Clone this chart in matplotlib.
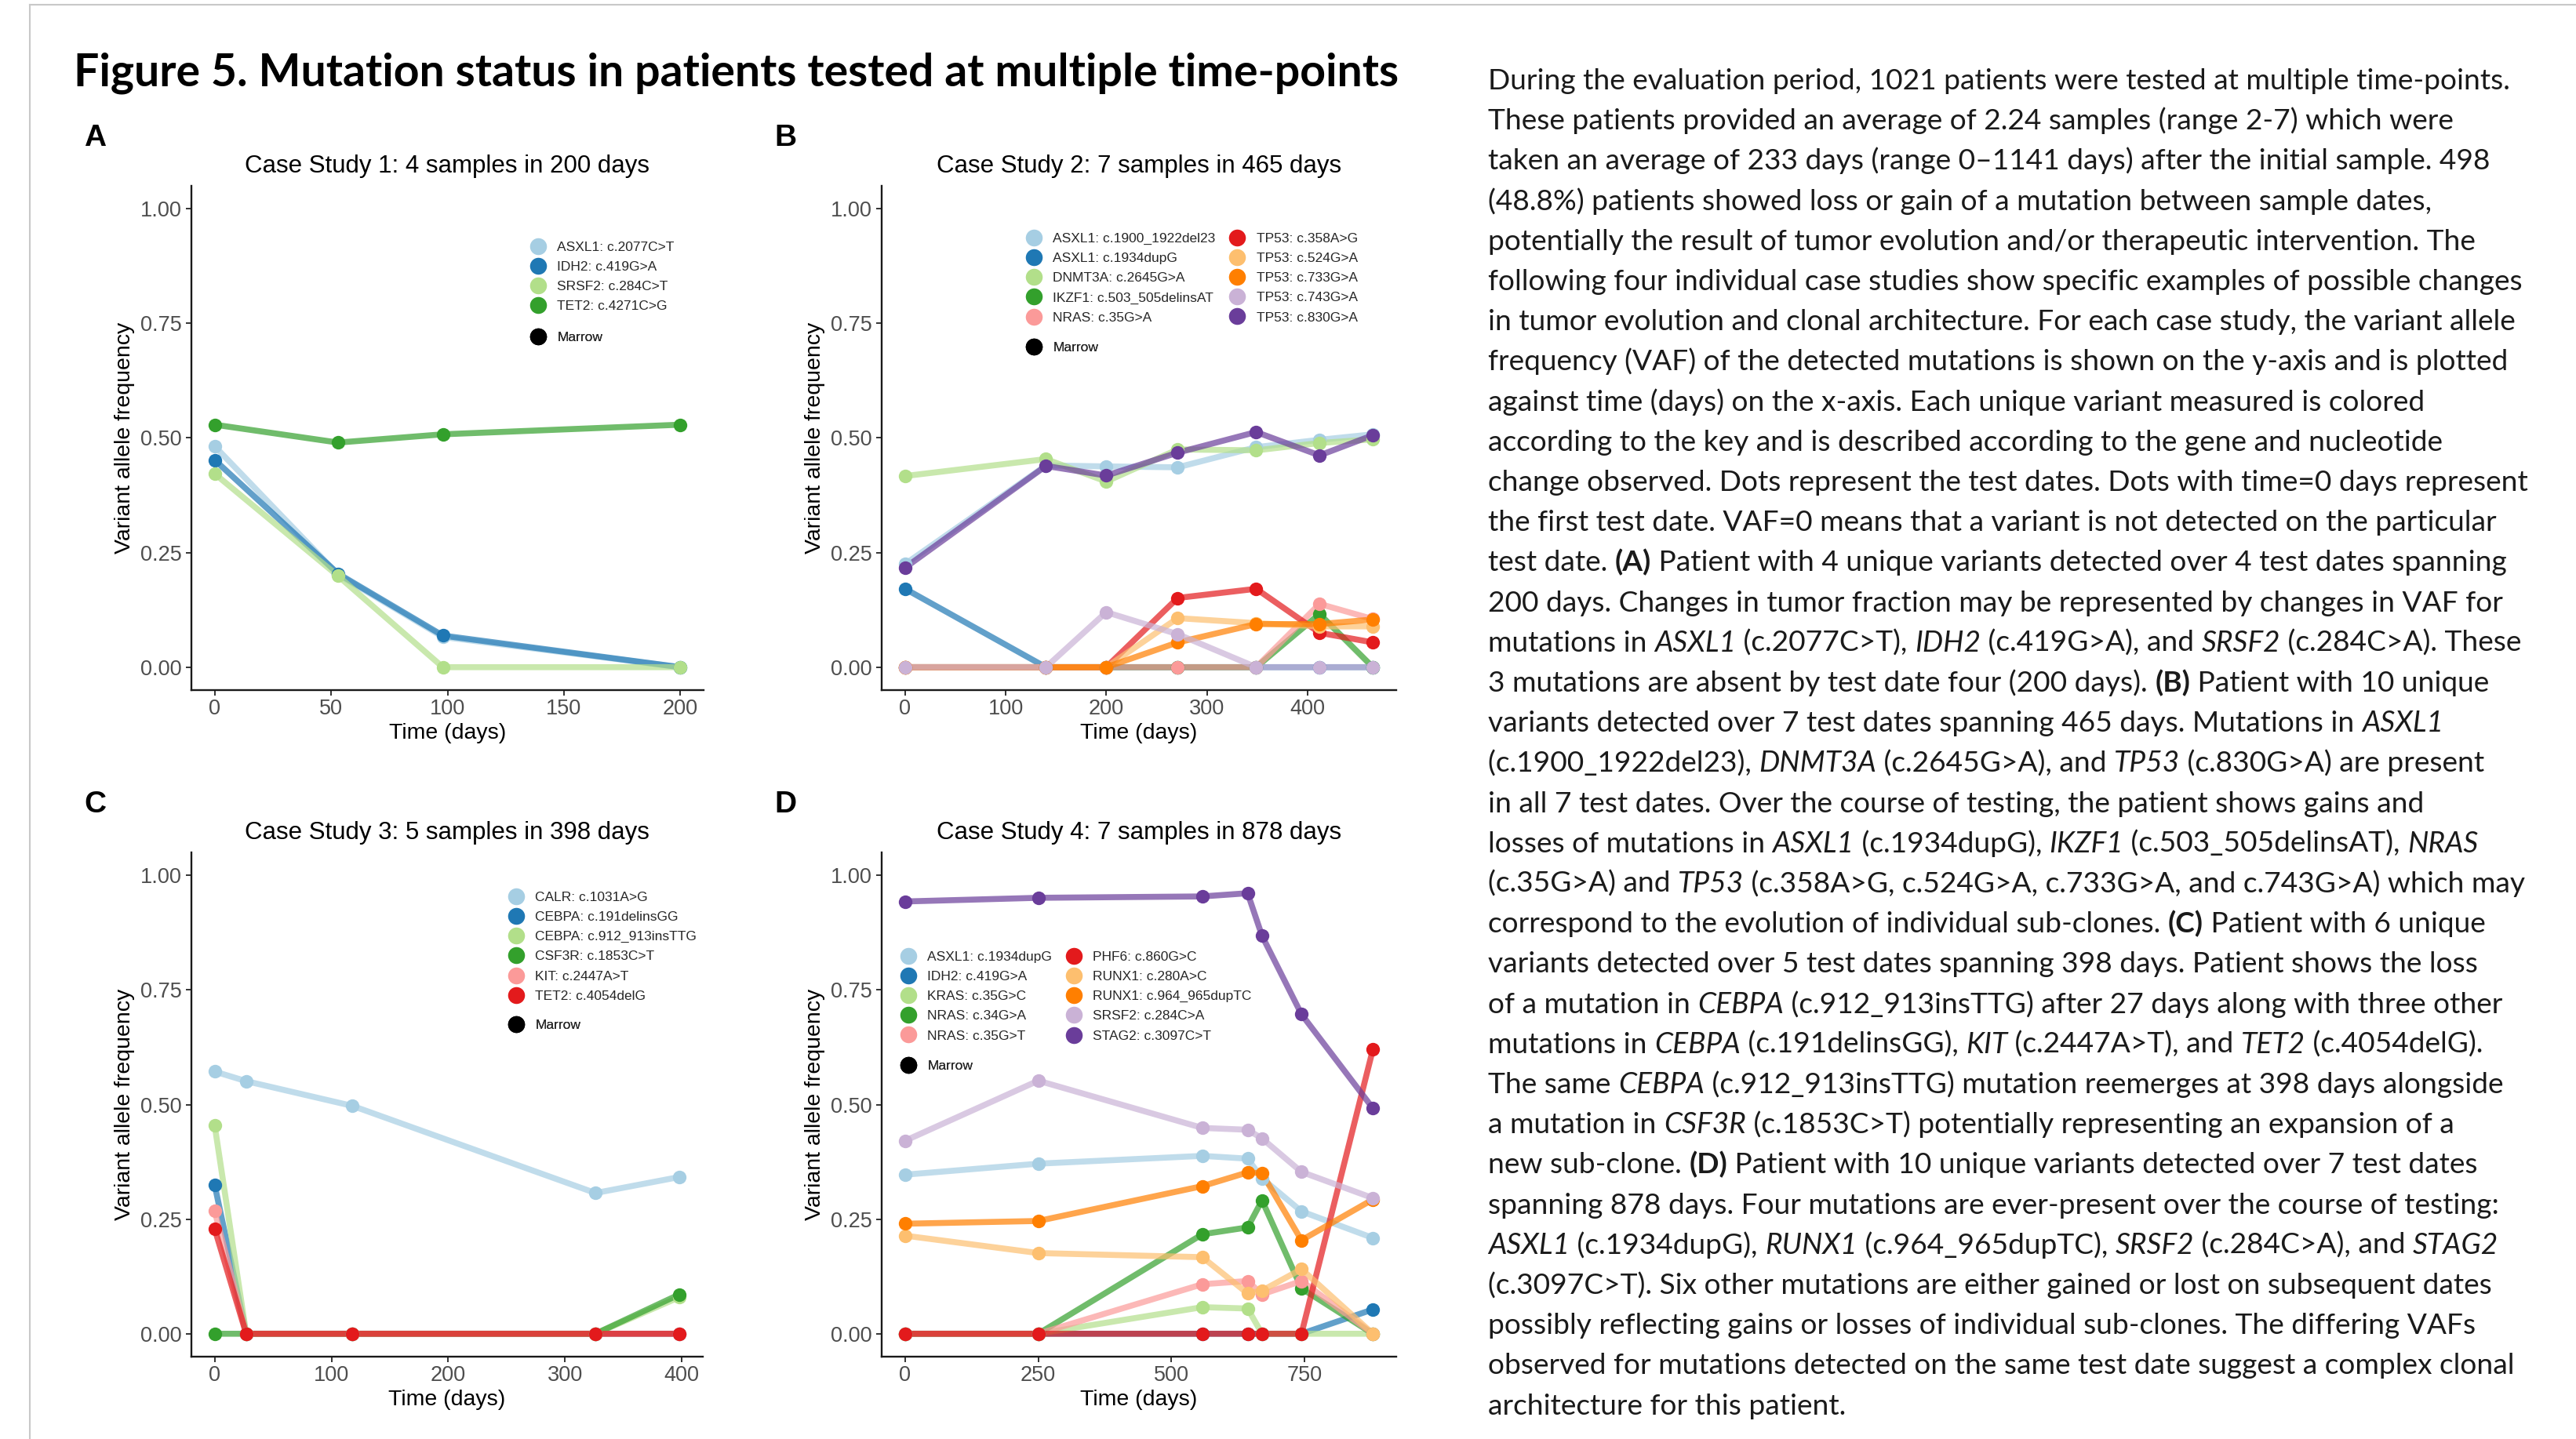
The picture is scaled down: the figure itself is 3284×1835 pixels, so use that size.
# -*- coding: utf-8 -*-
"""
Figure 5: mutation VAF over time for four case studies, caption on the right.
"""

import re
import matplotlib
matplotlib.use("Agg")
import matplotlib.pyplot as plt
from matplotlib.lines import Line2D
from matplotlib.font_manager import FontProperties

# === data ===
A_DAYS = [0, 53, 98, 200]
A_VARIANTS = ["ASXL1: c.2077C>T", "IDH2: c.419G>A", "SRSF2: c.284C>T", "TET2: c.4271C>G"]
A_VAF = [
    [0.482, 0.202, 0.066, 0.0],
    [0.452, 0.204, 0.069, 0.0],
    [0.422, 0.199, 0.0, 0.0],
    [0.529, 0.490, 0.508, 0.529],
]
A_XTICKS = [0, 50, 100, 150, 200]

B_DAYS = [0, 140, 200, 271, 349, 412, 465]
B_VARIANTS = ["ASXL1: c.1900_1922del23", "ASXL1: c.1934dupG", "DNMT3A: c.2645G>A",
              "IKZF1: c.503_505delinsAT", "NRAS: c.35G>A", "TP53: c.358A>G",
              "TP53: c.524G>A", "TP53: c.733G>A", "TP53: c.743G>A", "TP53: c.830G>A"]
B_VAF = [
    [0.225, 0.440, 0.438, 0.436, 0.480, 0.496, 0.508],
    [0.171, 0.0, 0.0, 0.0, 0.0, 0.0, 0.0],
    [0.417, 0.454, 0.405, 0.475, 0.473, 0.489, 0.497],
    [0.0, 0.0, 0.0, 0.0, 0.0, 0.116, 0.0],
    [0.0, 0.0, 0.0, 0.0, 0.0, 0.138, 0.105],
    [0.0, 0.0, 0.0, 0.151, 0.171, 0.075, 0.054],
    [0.0, 0.0, 0.0, 0.107, 0.096, 0.089, 0.089],
    [0.0, 0.0, 0.0, 0.054, 0.094, 0.094, 0.104],
    [0.0, 0.0, 0.120, 0.072, 0.0, 0.0, 0.0],
    [0.217, 0.439, 0.418, 0.468, 0.513, 0.462, 0.506],
]
B_XTICKS = [0, 100, 200, 300, 400]

C_DAYS = [0, 27, 118, 326, 398]
C_VARIANTS = ["CALR: c.1031A>G", "CEBPA: c.191delinsGG", "CEBPA: c.912_913insTTG",
              "CSF3R: c.1853C>T", "KIT: c.2447A>T", "TET2: c.4054delG"]
C_VAF = [
    [0.572, 0.551, 0.497, 0.307, 0.342],
    [0.325, 0.0, 0.0, 0.0, 0.0],
    [0.455, 0.0, 0.0, 0.0, 0.080],
    [0.0, 0.0, 0.0, 0.0, 0.086],
    [0.268, 0.0, 0.0, 0.0, 0.0],
    [0.229, 0.0, 0.0, 0.0, 0.0],
]
C_XTICKS = [0, 100, 200, 300, 400]

D_DAYS = [0, 250, 558, 643, 670, 744, 878]
D_VARIANTS = ["ASXL1: c.1934dupG", "IDH2: c.419G>A", "KRAS: c.35G>C", "NRAS: c.34G>A",
              "NRAS: c.35G>T", "PHF6: c.860G>C", "RUNX1: c.280A>C",
              "RUNX1: c.964_965dupTC", "SRSF2: c.284C>A", "STAG2: c.3097C>T"]
D_VAF = [
    [0.347, 0.371, 0.388, 0.382, 0.339, 0.267, 0.209],
    [0.0, 0.0, 0.0, 0.0, 0.0, 0.0, 0.053],
    [0.0, 0.0, 0.058, 0.055, 0.0, 0.0, 0.0],
    [0.0, 0.0, 0.217, 0.232, 0.291, 0.099, 0.0],
    [0.0, 0.0, 0.108, 0.115, 0.086, 0.115, 0.0],
    [0.0, 0.0, 0.0, 0.0, 0.0, 0.0, 0.620],
    [0.214, 0.176, 0.167, 0.088, 0.094, 0.141, 0.0],
    [0.240, 0.246, 0.322, 0.352, 0.350, 0.204, 0.293],
    [0.421, 0.552, 0.449, 0.445, 0.426, 0.353, 0.296],
    [0.943, 0.951, 0.954, 0.961, 0.868, 0.697, 0.492],
]
D_XTICKS = [0, 250, 500, 750]

Y_TICKS = [0.0, 0.25, 0.5, 0.75, 1.0]

TITLE = "Figure 5. Mutation status in patients tested at multiple time-points"

CAPTION = [
    "During the evaluation period, 1021 patients were tested at multiple time-points.",
    "These patients provided an average of 2.24 samples (range 2-7) which were",
    "taken an average of 233 days (range 0\u20131141 days) after the initial sample. 498",
    "(48.8%) patients showed loss or gain of a mutation between sample dates,",
    "potentially the result of tumor evolution and/or therapeutic intervention. The",
    "following four individual case studies show specific examples of possible changes",
    "in tumor evolution and clonal architecture. For each case study, the variant allele",
    "frequency (VAF) of the detected mutations is shown on the y-axis and is plotted",
    "against time (days) on the x-axis. Each unique variant measured is colored",
    "according to the key and is described according to the gene and nucleotide",
    "change observed. Dots represent the test dates. Dots with time=0 days represent",
    "the first test date. VAF=0 means that a variant is not detected on the particular",
    "test date. **(A)** Patient with 4 unique variants detected over 4 test dates spanning",
    "200 days. Changes in tumor fraction may be represented by changes in VAF for",
    "mutations in *ASXL1* (c.2077C>T), *IDH2* (c.419G>A), and *SRSF2* (c.284C>A). These",
    "3 mutations are absent by test date four (200 days). **(B)** Patient with 10 unique",
    "variants detected over 7 test dates spanning 465 days. Mutations in *ASXL1*",
    "(c.1900_1922del23), *DNMT3A* (c.2645G>A), and *TP53* (c.830G>A) are present",
    "in all 7 test dates. Over the course of testing, the patient shows gains and",
    "losses of mutations in *ASXL1* (c.1934dupG), *IKZF1* (c.503_505delinsAT), *NRAS*",
    "(c.35G>A) and *TP53* (c.358A>G, c.524G>A, c.733G>A, and c.743G>A) which may",
    "correspond to the evolution of individual sub-clones. **(C)** Patient with 6 unique",
    "variants detected over 5 test dates spanning 398 days. Patient shows the loss",
    "of a mutation in *CEBPA* (c.912_913insTTG) after 27 days along with three other",
    "mutations in *CEBPA* (c.191delinsGG), *KIT* (c.2447A>T), and *TET2* (c.4054delG).",
    "The same *CEBPA* (c.912_913insTTG) mutation reemerges at 398 days alongside",
    "a mutation in *CSF3R* (c.1853C>T) potentially representing an expansion of a",
    "new sub-clone. **(D)** Patient with 10 unique variants detected over 7 test dates",
    "spanning 878 days. Four mutations are ever-present over the course of testing:",
    "*ASXL1* (c.1934dupG), *RUNX1* (c.964_965dupTC), *SRSF2* (c.284C>A), and *STAG2*",
    "(c.3097C>T). Six other mutations are either gained or lost on subsequent dates",
    "possibly reflecting gains or losses of individual sub-clones. The differing VAFs",
    "observed for mutations detected on the same test date suggest a complex clonal",
    "architecture for this patient.",
]

# === style / layout (pixels on the 3284x1835 canvas) ===
W, H, DPI = 3284, 1835, 100
PAIRED = ["#A6CEE3", "#1F78B4", "#B2DF8A", "#33A02C", "#FB9A99",
          "#E31A1C", "#FDBF6F", "#FF7F00", "#CAB2D6", "#6A3D9A"]
SANS = ["Liberation Sans", "DejaVu Sans"]
BODY = ["Lato", "Liberation Sans", "DejaVu Sans"]

plt.rcParams["font.family"] = SANS


def fx(px):
    return px / W


def fy(py):
    return 1 - py / H


fig = plt.figure(figsize=(W / DPI, H / DPI), dpi=DPI, facecolor="white")
renderer = fig.canvas.get_renderer()


def text_width(s, prop):
    w1, _, _ = renderer.get_text_width_height_descent("|" + s + "|", prop, ismath=False)
    w0, _, _ = renderer.get_text_width_height_descent("||", prop, ismath=False)
    return w1 - w0


def add_legend(ax, labels, colors, marker_x, row_y, ncol):
    fs = 12.5
    handles = [Line2D([], [], ls="none", marker="o", ms=15.5, mfc=c, mec=c, mew=0)
               for c in colors]
    half = 0.5 * fs * DPI / 72
    leg = ax.legend(handles, labels, loc="upper left",
                    bbox_to_anchor=(fx(marker_x - half), fy(row_y - 5.5)),
                    bbox_transform=fig.transFigure, ncol=ncol, frameon=False,
                    prop=FontProperties(family=SANS, size=fs), labelcolor="#262626",
                    handlelength=1.0, handletextpad=0.9, labelspacing=0.58,
                    columnspacing=1.1, borderpad=0, borderaxespad=0)
    ax.add_artist(leg)


def draw_panel(box, days, variants, vaf, xticks, title, letter, leg_x, leg_y, marrow_y, ncol):
    left, top, right, bottom = box
    ax = fig.add_axes([fx(left), fy(bottom), (right - left) / W, (bottom - top) / H])
    colors = PAIRED[:len(variants)]
    # ggplot order: all lines first, then all points
    for c, vals in zip(colors, vaf):
        ax.plot(days, vals, color=c, lw=5.5, alpha=0.7, zorder=2)
    for c, vals in zip(colors, vaf):
        ax.plot(days, vals, ls="none", marker="o", ms=12.5, mfc=c, mec=c, mew=0, zorder=3)

    span = max(days)
    ax.set_xlim(-0.05 * span, 1.05 * span)
    ax.set_ylim(-0.05, 1.05)
    ax.set_xticks(xticks)
    ax.set_yticks(Y_TICKS)
    ax.set_yticklabels([f"{v:.2f}" for v in Y_TICKS])
    for s in ("top", "right"):
        ax.spines[s].set_visible(False)
    for s in ("left", "bottom"):
        ax.spines[s].set_linewidth(1.7)
        ax.spines[s].set_color("#1a1a1a")
    ax.tick_params(length=5, width=1.4, color="#333333", labelcolor="#4D4D4D",
                   labelsize=19.5)
    ax.tick_params(axis="y", pad=4)
    ax.tick_params(axis="x", pad=3)
    ax.set_xlabel("Time (days)", fontsize=20.5, color="black", va="center")
    ax.set_ylabel("Variant allele frequency", fontsize=20.5, color="black", va="center")
    ax.xaxis.set_label_coords(0.5, -0.085)
    ax.yaxis.set_label_coords(-0.13, 0.5)

    fig.text(fx((left + right) / 2), fy(top - 25), title, fontsize=22.5,
             ha="center", va="center", color="black")
    fig.text(fx(left - 123), fy(top - 61), letter, fontsize=28, fontweight="bold",
             ha="center", va="center", color="black")

    add_legend(ax, variants, colors, leg_x, leg_y, ncol)
    add_legend(ax, ["Marrow"], ["black"], leg_x, marrow_y, 1)
    return ax


draw_panel((244, 237, 897, 880), A_DAYS, A_VARIANTS, A_VAF, A_XTICKS,
           "Case Study 1: 4 samples in 200 days", "A", 686, 313, 428, 1)
draw_panel((1124, 237, 1780, 880), B_DAYS, B_VARIANTS, B_VAF, B_XTICKS,
           "Case Study 2: 7 samples in 465 days", "B", 1318, 302, 441, 2)
draw_panel((244, 1087, 896, 1730), C_DAYS, C_VARIANTS, C_VAF, C_XTICKS,
           "Case Study 3: 5 samples in 398 days", "C", 658, 1142, 1305, 1)
draw_panel((1124, 1087, 1780, 1730), D_DAYS, D_VARIANTS, D_VAF, D_XTICKS,
           "Case Study 4: 7 samples in 878 days", "D", 1158, 1218, 1357, 2)

# === title ===
tprop = FontProperties(family=BODY, size=40, weight="bold")
tsize = 40 * 1690 / text_width(TITLE, tprop)
fig.text(fx(94), fy(110), TITLE, fontproperties=FontProperties(family=BODY, size=tsize, weight="bold"),
         ha="left", va="baseline", color="black")

# === caption with inline bold / italic ===
plain = [re.sub(r"\*", "", ln) for ln in CAPTION]
bprop = FontProperties(family=BODY, size=20)
body_size = 20 * 1323 / text_width(plain[5], bprop)
x0, y0, step = 1897, 114, 51.2
for i, line in enumerate(CAPTION):
    x = x0
    y = y0 + i * step
    for tok in re.split(r"(\*\*.+?\*\*|\*.+?\*)", line):
        if not tok:
            continue
        weight, style = "normal", "normal"
        if tok.startswith("**"):
            tok, weight = tok[2:-2], "bold"
        elif tok.startswith("*"):
            tok, style = tok[1:-1], "italic"
        prop = FontProperties(family=BODY, size=body_size, weight=weight, style=style)
        fig.text(fx(x), fy(y), tok, fontproperties=prop, ha="left", va="baseline",
                 color="#1a1a1a")
        x += text_width(tok, prop)

# thin frame lines at the top and left of the page
fig.add_artist(Line2D([fx(38), 1], [fy(6), fy(6)], color="#c8c8c8", lw=1.5))
fig.add_artist(Line2D([fx(38), fx(38)], [fy(6), 0], color="#c8c8c8", lw=1.5))

fig.savefig("out.png", dpi=DPI, facecolor="white")
